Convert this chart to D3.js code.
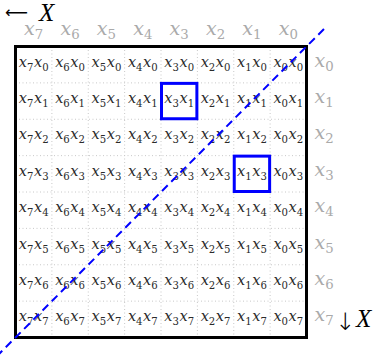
<!DOCTYPE html>
<meta charset="utf-8">
<style>
    body { margin: 0; background: #fff; }
    svg { font-family: "DejaVu Serif", "Liberation Serif", serif; }
    .cell { fill: #2a2a2a; font-size: 14.5px; }
    .lbl { fill: #aaa; font-size: 19px; }
    .grid line { stroke: #c8c8c8; stroke-width: 1; stroke-dasharray: 1,2.5; }
    .arrow { font-family: "DejaVu Sans", sans-serif; fill: #000; }
    .bigx { font-family: "Liberation Serif", serif; font-style: italic; font-size: 25px; fill: #000; }
</style>
<body>
<script src="https://d3js.org/d3.v7.min.js"></script>
<script>
    // column indices (left to right) and row indices (top to bottom)
    const cols = [7, 6, 5, 4, 3, 2, 1, 0];
    const rows = [0, 1, 2, 3, 4, 5, 6, 7];
    // highlighted cells (col index, row index)
    const highlights = [[3, 1], [1, 3]];
    // diagonal extent, in fractions of the box diagonal
    const diagExtent = [-0.065, 1.07];

    const width = 376, height = 362;

    const svg = d3.select('body').append('svg')
        .attr('width', width)
        .attr('height', height);

    const x = d3.scaleBand().domain(cols).range([15.5, 306.5]);
    const y = d3.scaleBand().domain(rows).range([46.5, 337.5]);

    // writes x_a x_b ... with subscripts
    function mathText(sel, idx) {
        idx.forEach(function (k, i) {
            sel.append('tspan')
                .attr('font-style', 'italic')
                .attr('dy', i === 0 ? 0 : -4)
                .attr('dx', i === 0 ? 0 : 0.5)
                .text('x');
            sel.append('tspan')
                .attr('font-size', '0.7em')
                .attr('dy', 4)
                .text(k);
        });
    }

    // dotted grid
    const grid = svg.append('g').attr('class', 'grid');
    grid.selectAll('.v')
        .data(cols.slice(1))
        .enter().append('line')
        .attr('x1', d => x(d)).attr('x2', d => x(d))
        .attr('y1', y.range()[0]).attr('y2', y.range()[1]);
    grid.selectAll('.h')
        .data(rows.slice(1))
        .enter().append('line')
        .attr('y1', d => y(d)).attr('y2', d => y(d))
        .attr('x1', x.range()[0]).attr('x2', x.range()[1]);

    // cell products
    const cells = [];
    rows.forEach(r => cols.forEach(c => cells.push([c, r])));
    svg.selectAll('.cell')
        .data(cells)
        .enter().append('text')
        .attr('class', 'cell')
        .attr('x', d => x(d[0]) + x.bandwidth() / 2)
        .attr('y', d => y(d[1]) + y.bandwidth() / 2 + 2)
        .attr('text-anchor', 'middle')
        .each(function (d) { mathText(d3.select(this), [d[0], d[1]]); });

    // frame
    svg.append('rect')
        .attr('x', x.range()[0]).attr('y', y.range()[0])
        .attr('width', x.range()[1] - x.range()[0])
        .attr('height', y.range()[1] - y.range()[0])
        .attr('fill', 'none')
        .attr('stroke', '#000')
        .attr('stroke-width', 3);

    // diagonal
    const t = d3.scaleLinear().domain([0, 1]);
    const dx = t.copy().range([x.range()[0], x.range()[1]]);
    const dy = t.copy().range([y.range()[1], y.range()[0]]);
    svg.append('path')
        .attr('d', d3.line().x(d => dx(d)).y(d => dy(d))(diagExtent))
        .attr('fill', 'none')
        .attr('stroke', '#0000ff')
        .attr('stroke-width', 2)
        .attr('stroke-dasharray', '8,5');

    // highlighted cells
    svg.selectAll('.hl')
        .data(highlights)
        .enter().append('rect')
        .attr('x', d => x(d[0]) + 0.5)
        .attr('y', d => y(d[1]) + 0.5)
        .attr('width', x.bandwidth() - 1)
        .attr('height', y.bandwidth() - 1)
        .attr('fill', 'none')
        .attr('stroke', '#0000ff')
        .attr('stroke-width', 3);

    // column labels
    svg.selectAll('.clbl')
        .data(cols)
        .enter().append('text')
        .attr('class', 'lbl')
        .attr('x', d => x(d) + x.bandwidth() / 2)
        .attr('y', 35)
        .attr('text-anchor', 'middle')
        .each(function (d) { mathText(d3.select(this), [d]); });

    // row labels
    svg.selectAll('.rlbl')
        .data(rows)
        .enter().append('text')
        .attr('class', 'lbl')
        .attr('x', 324)
        .attr('y', d => y(d) + y.bandwidth() / 2 + 2)
        .attr('text-anchor', 'middle')
        .each(function (d) { mathText(d3.select(this), [d]); });

    // direction markers
    svg.append('text').attr('class', 'arrow')
        .attr('x', 5).attr('y', 18)
        .style('font-size', '16px')
        .text('\u27F5');
    svg.append('text').attr('class', 'bigx')
        .attr('x', 39).attr('y', 21).text('X');
    svg.append('text').attr('class', 'arrow')
        .attr('x', 335).attr('y', 330)
        .style('font-size', '24px')
        .style('font-weight', 300)
        .text('\u2193');
    svg.append('text').attr('class', 'bigx')
        .attr('x', 356).attr('y', 327).text('X');
</script>
</body>
</html>
